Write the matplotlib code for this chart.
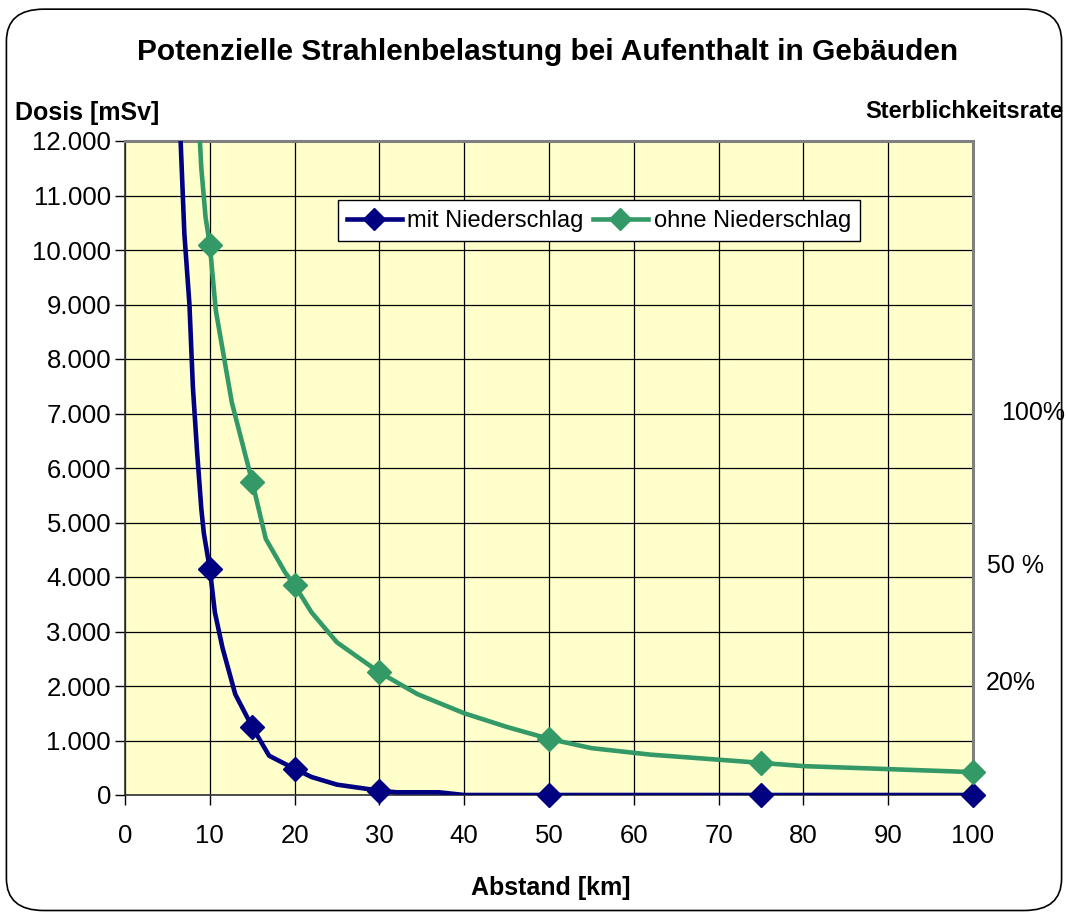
import matplotlib.pyplot as plt
from matplotlib.patches import FancyBboxPatch

plt.rcParams['font.family'] = ['Liberation Sans', 'DejaVu Sans']

# marker points (km, mSv)
km_pts = [10, 15, 20, 30, 50, 75, 100]
mit_pts = [4150, 1250, 480, 80, 0, 0, 0]
ohne_pts = [10100, 5750, 3850, 2250, 1030, 590, 420]

# smooth curve
mit_km = [6.3, 7.0, 7.6, 8.0, 8.5, 9.0, 9.3, 10, 10.6, 11.5, 13, 15, 17, 20, 22, 25, 30, 32, 37, 40, 50, 75, 100]
mit_val = [13000, 10300, 9000, 7500, 6300, 5250, 4800, 4150, 3350, 2700, 1850, 1250, 720, 480, 330, 190, 80, 50, 50, 0, 0, 0, 0]
ohne_km = [8.5, 9.0, 9.5, 10, 10.7, 12.6, 15, 16.6, 18.9, 20, 22, 25, 30, 34.5, 40, 45, 50, 55, 62, 75, 80, 100]
ohne_val = [13000, 11500, 10600, 10100, 8900, 7200, 5750, 4700, 4080, 3850, 3350, 2800, 2250, 1850, 1500, 1250, 1030, 860, 740, 590, 530, 420]

xticks = list(range(0, 101, 10))
yticks = list(range(0, 12001, 1000))
ylabels = ["0" if v == 0 else f"{v // 1000}.000" for v in yticks]

navy = "#000080"
green = "#339966"

fig = plt.figure(figsize=(10.68, 9.16), dpi=100)
fig.patches.append(FancyBboxPatch((0.006, 0.006), 0.988, 0.984,
                                  boxstyle="round,pad=0,rounding_size=0.035",
                                  transform=fig.transFigure, fill=False,
                                  edgecolor="black", linewidth=1.2))

ax = fig.add_axes([125 / 1068, 1 - 795 / 916, 848 / 1068, 654 / 916])
ax.set_facecolor("#FFFFCC")
ax.set_xlim(0, 100)
ax.set_ylim(0, 12000)

ax.plot(mit_km, mit_val, color=navy, lw=3.3, clip_on=True, zorder=3)
ax.plot(ohne_km, ohne_val, color=green, lw=3.3, clip_on=True, zorder=3)
ax.plot(km_pts, mit_pts, "D", color=navy, ms=12, clip_on=False, zorder=4)
ax.plot(km_pts, ohne_pts, "D", color=green, ms=12, clip_on=False, zorder=4)

# legend handles
ax.plot([], [], color=navy, lw=3.3, marker="D", ms=11, label="mit Niederschlag")
ax.plot([], [], color=green, lw=3.3, marker="D", ms=11, label="ohne Niederschlag")
leg = ax.legend(loc="center", bbox_to_anchor=(0.559, 0.878), ncol=2, fontsize=17,
                frameon=True, fancybox=False, edgecolor="black", framealpha=1,
                handlelength=2.3, handletextpad=0.25, columnspacing=0.4,
                borderpad=0.4, borderaxespad=0)
leg.get_frame().set_linewidth(1.0)

ax.set_xticks(xticks)
ax.set_yticks(yticks)
ax.set_yticklabels(ylabels)
ax.grid(True, color="black", lw=0.9)
ax.set_axisbelow(True)
ax.tick_params(axis="both", labelsize=18.5, length=7, width=1, direction="out")
ax.tick_params(axis="x", pad=14)
ax.tick_params(axis="y", pad=3)
for s in ["top", "right"]:
    ax.spines[s].set_color("#808080")
    ax.spines[s].set_linewidth(2.2)
for s in ["left", "bottom"]:
    ax.spines[s].set_color("#303030")
    ax.spines[s].set_linewidth(1.2)

fig.text(548 / 1068, 1 - 52 / 916, "Potenzielle Strahlenbelastung bei Aufenthalt in Gebäuden",
         ha="center", va="center", fontsize=21.5, fontweight="bold")
fig.text(15 / 1068, 1 - 113 / 916, "Dosis [mSv]", ha="left", va="center",
         fontsize=18, fontweight="bold")
fig.text(1063 / 1068, 1 - 111 / 916, "Sterblichkeitsrate", ha="right", va="center",
         fontsize=17, fontweight="bold")
fig.text(551 / 1068, 1 - 888 / 916, "Abstand [km]", ha="center", va="center",
         fontsize=18, fontweight="bold")
fig.text(1033 / 1068, 1 - 413 / 916, "100%", ha="center", va="center", fontsize=18)
fig.text(987 / 1068, 1 - 566 / 916, "50 %", ha="left", va="center", fontsize=18)
fig.text(986 / 1068, 1 - 683 / 916, "20%", ha="left", va="center", fontsize=18)

fig.savefig("out.png", dpi=100)
